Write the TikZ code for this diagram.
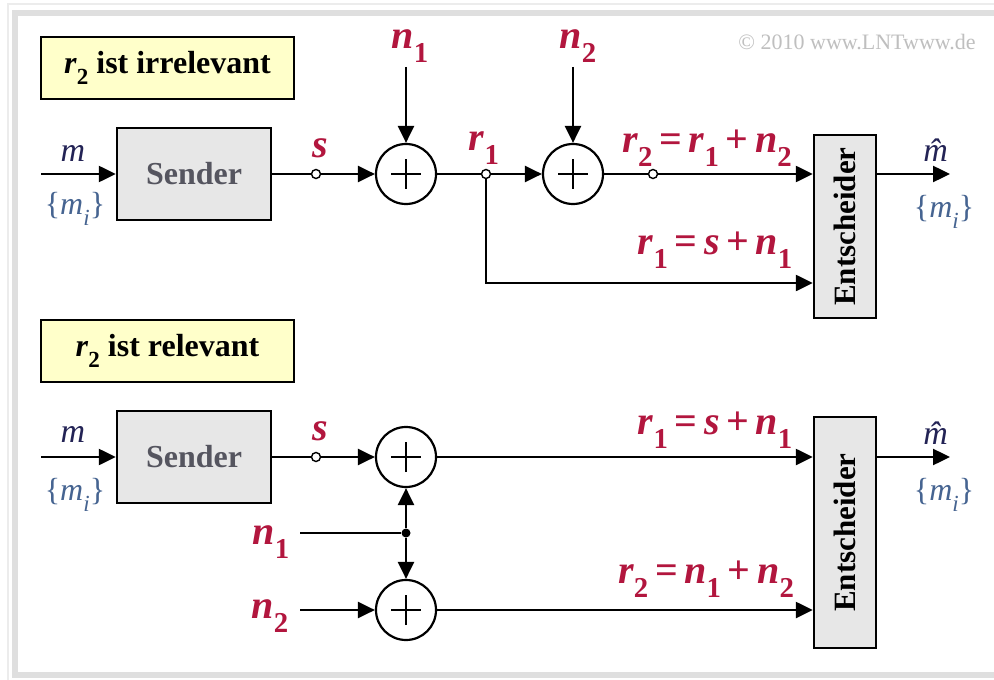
\documentclass[tikz,border=0pt]{standalone}
\usepackage{fontspec}
\setmainfont{Liberation Serif}
\usepackage{graphicx}
\usetikzlibrary{arrows.meta, positioning, calc}

\definecolor{lntred}{RGB}{178,22,62}
\definecolor{lntblue}{RGB}{70,100,145}
\definecolor{lntnavy}{RGB}{35,35,85}
\definecolor{boxgray}{RGB}{231,231,231}
\definecolor{notegold}{RGB}{255,255,202}
\definecolor{sendtxt}{RGB}{85,85,95}

% lowered subscript, follows the current font
\newcommand{\lowsub}[1]{\raisebox{-0.35em}{\scalebox{0.72}{#1}}}
\newcommand{\rv}[2]{\textit{#1}\lowsub{\upshape #2}}
\newcommand{\mset}{\{\textit{m}\lowsub{\textit{i}}\}}

\begin{document}
\begin{tikzpicture}[
  x=0.5pt, y=-0.5pt,
  block/.style={draw, line width=1.2pt, fill=boxgray, minimum width=77pt, minimum height=46pt, inner sep=0pt, font=\fontsize{16}{16}\selectfont\bfseries, text=sendtxt},
  decide/.style={draw, line width=1.2pt, fill=boxgray, minimum width=31pt, inner sep=0pt, font=\fontsize{15.5}{15.5}\selectfont\bfseries},
  note/.style={draw, line width=1.4pt, fill=notegold, minimum width=126.5pt, minimum height=31pt, inner sep=0pt, font=\fontsize{16}{16}\selectfont\bfseries},
  adder/.style={draw, circle, line width=1.1pt, minimum size=30pt, inner sep=0pt, fill=white,
    path picture={\draw[line width=1.3pt] ([xshift=-7.5pt]path picture bounding box.center) -- ([xshift=7.5pt]path picture bounding box.center);
      \draw[line width=1.3pt] ([yshift=-7.5pt]path picture bounding box.center) -- ([yshift=7.5pt]path picture bounding box.center);}},
  tap/.style={draw, circle, fill=white, minimum size=4.5pt, inner sep=0pt, line width=0.7pt},
  dot/.style={circle, fill=black, minimum size=4.5pt, inner sep=0pt},
  wire/.style={line width=1.2pt},
  sig/.style={line width=1.2pt, -{Triangle[length=8.5pt, width=8pt]}},
  lbl/.style={text=lntred, font=\fontsize{20}{20}\selectfont\bfseries, inner sep=0pt},
  msym/.style={text=lntnavy, font=\fontsize{17}{17}\selectfont, inner sep=0pt},
  msetlbl/.style={text=lntblue, font=\fontsize{16}{16}\selectfont, inner sep=0pt}
]

% frame
\useasboundingbox (0,0) rectangle (994,679);
\fill[white] (0,0) rectangle (994,679);
\draw[gray!15, line width=0.6pt] (8,4) rectangle (1010,690);
\draw[gray!25, line width=3pt] (15,13) rectangle (1010,675);

\node[text=gray!50, font=\fontsize{11}{11}\selectfont, inner sep=0pt] (copy) at (857,42) {\textcopyright\ 2010 www.LNTwww.de};

% ---- upper part: r2 irrelevant
\node[note] (note1) at (167.5,68) {\rv{r}{2} ist irrelevant};

\coordinate (in1) at (41,174);
\node[block] (send1) at (194,174) {Sender};
\node[tap] (s1) at (316,174) {};
\node[adder] (add1) at (406,174) {};
\node[tap] (r1tap) at (486,174) {};
\node[adder] (add2) at (573,174) {};
\node[tap] (r2tap) at (653,174) {};
\node[decide, minimum height=91.5pt] (dec1) at (845,226.5) {\rotatebox{90}{Entscheider}};
\coordinate (n1top) at (406,67);
\coordinate (n2top) at (573,67);
\coordinate (r1low) at (486,283);
\coordinate (out1) at (950,174);

\node[msym] (m1) at (73,153) {\textit{m}};
\node[msetlbl] (mi1) at (75,209) {\mset};
\node[lbl] (slbl1) at (320,148) {\textit{s}};
\node[lbl] (n1lbl) at (410,46) {\rv{n}{1}};
\node[lbl] (n2lbl) at (578,46) {\rv{n}{2}};
\node[lbl] (r1lbl) at (484,148) {\rv{r}{1}};
\node[lbl] (r2eq) at (707,148) {\rv{r}{2}\thinspace=\thinspace\rv{r}{1}\thinspace+\thinspace\rv{n}{2}};
\node[lbl] (r1eq) at (715,250) {\rv{r}{1}\thinspace=\thinspace\textit{s}\thinspace+\thinspace\rv{n}{1}};
\node[msym] (mhat1) at (942,150) {\textit{\^{m}}};
\node[msetlbl] (mo1) at (944,212) {\mset};

\draw[sig] (in1) -- (send1);
\draw[wire] (send1) -- (s1);
\draw[sig] (s1) -- (add1);
\draw[sig] (n1top) -- (add1);
\draw[wire] (add1) -- (r1tap);
\draw[sig] (r1tap) -- (add2);
\draw[sig] (n2top) -- (add2);
\draw[wire] (add2) -- (r2tap);
\draw[sig] (r2tap) -- (r2tap -| dec1.west);
\draw[sig] (r1tap) -- (r1low) -- (r1low -| dec1.west);
\draw[sig] (dec1.east |- out1) -- (out1);

% ---- lower part: r2 relevant
\node[note] (note2) at (167.5,351) {\rv{r}{2} ist relevant};

\coordinate (in2) at (41,457);
\node[block] (send2) at (194,457) {Sender};
\node[tap] (s2) at (316,457) {};
\node[adder] (add3) at (406,457) {};
\node[adder] (add4) at (406,610) {};
\node[dot] (split) at (406,533) {};
\node[decide, minimum height=115.5pt] (dec2) at (845,532.5) {\rotatebox{90}{Entscheider}};
\coordinate (n1in) at (300,533);
\coordinate (n2in) at (300,610);
\coordinate (out2) at (950,457);

\node[msym] (m2) at (73,434) {\textit{m}};
\node[msetlbl] (mi2) at (75,495) {\mset};
\node[lbl] (slbl2) at (320,431) {\textit{s}};
\node[lbl] (n1lbl2) at (271,542) {\rv{n}{1}};
\node[lbl] (n2lbl2) at (270,616) {\rv{n}{2}};
\node[lbl] (r1eq2) at (715,430) {\rv{r}{1}\thinspace=\thinspace\textit{s}\thinspace+\thinspace\rv{n}{1}};
\node[lbl] (r2eq2) at (706,579) {\rv{r}{2}\thinspace=\thinspace\rv{n}{1}\thinspace+\thinspace\rv{n}{2}};
\node[msym] (mhat2) at (942,433) {\textit{\^{m}}};
\node[msetlbl] (mo2) at (944,495) {\mset};

\draw[sig] (in2) -- (send2);
\draw[wire] (send2) -- (s2);
\draw[sig] (s2) -- (add3);
\draw[wire] (n1in) -- (split);
\draw[sig] (split) -- (add3);
\draw[sig] (split) -- (add4);
\draw[sig] (n2in) -- (add4);
\draw[sig] (add3) -- (add3 -| dec2.west);
\draw[sig] (add4) -- (add4 -| dec2.west);
\draw[sig] (dec2.east |- out2) -- (out2);

\end{tikzpicture}
\end{document}
